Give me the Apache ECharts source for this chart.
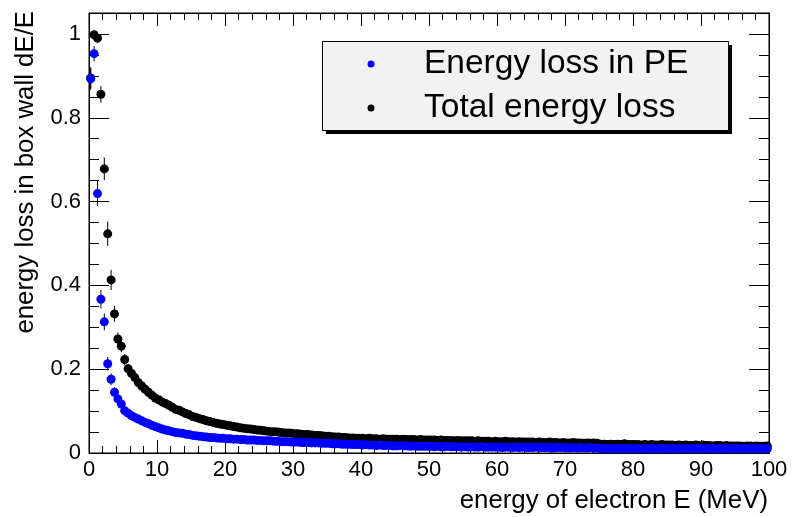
<!DOCTYPE html>
<html><head><meta charset="utf-8">
<script src="https://cdn.jsdelivr.net/npm/echarts@6/dist/echarts.min.js"></script>
<style>html,body{margin:0;padding:0;background:#fff}#c{width:794px;height:517px}</style>
</head><body><div id="c"></div>
<script>
// Histogram bin width (MeV); bins start at 0
const binWidth = 0.5;

// Total energy loss dE/E per bin (0-100 MeV, 200 bins)
const totalLoss = [
0.895,0.998,0.990,0.856,0.678,0.523,0.413,0.332,0.272,0.255,0.223,0.201,
0.190,0.180,0.168,0.160,0.152,0.145,0.138,0.131,
0.127,0.122,0.118,0.114,0.109,0.104,0.102,0.098,0.094,0.091,
0.087,0.085,0.082,0.080,0.077,0.075,0.073,0.071,0.069,0.068,
0.066,0.065,0.063,0.062,0.060,0.059,0.058,0.057,0.056,0.055,
0.054,0.053,0.052,0.051,0.051,0.050,0.049,0.048,0.048,0.047,
0.046,0.046,0.045,0.044,0.044,0.043,0.042,0.042,0.041,0.040,
0.040,0.039,0.038,0.038,0.037,0.037,0.036,0.036,0.035,0.035,
0.035,0.034,0.035,0.034,0.034,0.033,0.034,0.033,0.033,0.033,
0.033,0.032,0.033,0.032,0.032,0.032,0.031,0.032,0.031,0.031,
0.031,0.031,0.030,0.031,0.030,0.030,0.030,0.029,0.030,0.029,
0.029,0.029,0.029,0.028,0.029,0.028,0.028,0.028,0.027,0.028,
0.027,0.027,0.028,0.027,0.027,0.026,0.027,0.026,0.026,0.026,
0.026,0.025,0.026,0.025,0.025,0.026,0.025,0.025,0.024,0.025,
0.024,0.024,0.025,0.024,0.024,0.023,0.024,0.023,0.024,0.023,
0.021,0.021,0.020,0.021,0.020,0.021,0.020,0.022,0.020,0.020,
0.020,0.020,0.019,0.020,0.019,0.020,0.019,0.019,0.020,0.019,
0.019,0.019,0.018,0.019,0.018,0.019,0.018,0.018,0.019,0.018,
0.019,0.018,0.018,0.017,0.018,0.018,0.017,0.018,0.017,0.017,
0.017,0.017,0.016,0.017,0.017,0.016,0.017,0.016,0.016,0.017
];

// Energy loss in PE dE/E per bin
const peLoss = [
0.893,0.953,0.619,0.367,0.313,0.213,0.176,0.145,0.129,0.117,0.101,0.095,
0.089,0.085,0.081,0.077,0.073,0.070,0.066,0.063,
0.060,0.057,0.055,0.053,0.051,0.049,0.048,0.047,0.045,0.044,
0.042,0.041,0.040,0.039,0.038,0.037,0.037,0.036,0.035,0.035,
0.034,0.034,0.033,0.033,0.032,0.032,0.031,0.031,0.031,0.030,
0.030,0.029,0.029,0.029,0.028,0.028,0.027,0.027,0.027,0.026,
0.026,0.026,0.025,0.025,0.025,0.024,0.024,0.024,0.023,0.023,
0.023,0.022,0.022,0.022,0.021,0.021,0.021,0.020,0.020,0.020,
0.019,0.020,0.019,0.019,0.018,0.019,0.018,0.018,0.018,0.017,
0.017,0.018,0.017,0.017,0.016,0.017,0.016,0.016,0.016,0.016,
0.016,0.015,0.016,0.015,0.015,0.016,0.015,0.015,0.015,0.014,
0.015,0.014,0.015,0.014,0.014,0.015,0.014,0.014,0.014,0.014,
0.014,0.013,0.014,0.014,0.013,0.014,0.013,0.014,0.013,0.013,
0.013,0.014,0.013,0.013,0.013,0.013,0.012,0.013,0.013,0.013,
0.013,0.012,0.013,0.012,0.013,0.012,0.012,0.013,0.012,0.012,
0.010,0.011,0.010,0.010,0.011,0.010,0.010,0.011,0.010,0.010,
0.010,0.011,0.010,0.010,0.010,0.011,0.010,0.010,0.011,0.010,
0.010,0.010,0.011,0.010,0.010,0.010,0.011,0.010,0.010,0.010,
0.011,0.010,0.010,0.010,0.011,0.010,0.010,0.010,0.011,0.010,
0.010,0.010,0.011,0.010,0.010,0.010,0.010,0.011,0.010,0.010
];

// Statistical errors of the first bins (later ones are hidden by markers)
const totalErr = [0.025,0.010,0.012,0.020,0.027,0.029,0.024,0.019,0.016,0.015,0.013,0.012,0.011,0.010,0.009,0.009,0.008,0.008,0.007,0.007];
const peErr    = [0.026,0.018,0.030,0.022,0.020,0.016,0.014,0.012,0.011,0.010,0.009,0.008,0.008,0.007,0.007,0.006,0.006,0.006,0.005,0.005];

const seriesNames = ['Energy loss in PE', 'Total energy loss'];
const xTitle = 'energy of electron E (MeV)';
const yTitle = 'energy loss in box wall dE/E';

const centers = totalLoss.map((_, i) => (i + 0.5) * binWidth);
const toPts = vals => vals.map((v, i) => [centers[i], v]);
const toErr = (vals, errs) => errs.map((e, i) => [centers[i], vals[i] - e, vals[i] + e]);

const FONT = '"Liberation Sans", Arial, Helvetica, sans-serif';
const BLK = '#000';

function errRender(params, api) {
  const x = api.value(0);
  const lo = api.coord([x, api.value(1)]);
  const hi = api.coord([x, api.value(2)]);
  return { type: 'line', shape: { x1: lo[0], y1: lo[1], x2: hi[0], y2: hi[1] },
           style: { stroke: BLK, lineWidth: 1 } };
}

function xAx(pos, labels) {
  return {
    type: 'value', min: 0, max: 100, interval: 10, position: pos,
    axisLine: { show: true, onZero: false, lineStyle: { color: BLK, width: 1 } },
    axisTick: { show: true, inside: true, length: 13, lineStyle: { color: BLK } },
    minorTick: { show: true, splitNumber: 5, length: 7, lineStyle: { color: BLK } },
    axisLabel: { show: labels, color: BLK, fontSize: 22, fontFamily: FONT, margin: 6 },
    splitLine: { show: false }, minorSplitLine: { show: false }
  };
}
function yAx(pos, interval, len, labels) {
  return {
    type: 'value', min: 0, max: 1.05, interval: interval, position: pos,
    axisLine: { show: true, onZero: false, lineStyle: { color: BLK, width: 1 } },
    axisTick: { show: true, inside: true, length: len, lineStyle: { color: BLK } },
    axisLabel: { show: labels, color: BLK, fontSize: 22, fontFamily: FONT, margin: 8, showMaxLabel: false },
    splitLine: { show: false }
  };
}

const chart = echarts.init(document.getElementById('c'), null, { renderer: 'canvas' });
chart.setOption({
  animation: false,
  backgroundColor: '#fff',
  grid: { left: 89, right: 25, top: 13, bottom: 64, show: true, borderColor: BLK, borderWidth: 1, backgroundColor: 'transparent' },
  xAxis: [xAx('bottom', true), xAx('top', false)],
  yAxis: [yAx('left', 0.2, 20, true), yAx('left', 0.05, 10, false), yAx('right', 0.2, 20, false), yAx('right', 0.05, 10, false)],
  series: [
    { type: 'custom', name: seriesNames[1] + ' err', renderItem: errRender, data: toErr(totalLoss, totalErr),
      encode: { x: 0, y: [1, 2] }, z: 2, silent: true },
    { type: 'scatter', name: seriesNames[1], data: toPts(totalLoss), symbol: 'circle', symbolSize: 9,
      itemStyle: { color: BLK, opacity: 1 }, z: 3 },
    { type: 'custom', name: seriesNames[0] + ' err', renderItem: errRender, data: toErr(peLoss, peErr),
      encode: { x: 0, y: [1, 2] }, z: 4, silent: true },
    { type: 'scatter', name: seriesNames[0], data: toPts(peLoss), symbol: 'circle', symbolSize: 9,
      itemStyle: { color: '#0000ff', opacity: 1 }, z: 5 }
  ],
  graphic: [
    { type: 'rect', z: 100, shape: { x: 326, y: 45, width: 406, height: 89 }, style: { fill: BLK } },
    { type: 'rect', z: 101, shape: { x: 322.5, y: 41.5, width: 406, height: 89 }, style: { fill: '#f2f2f2', stroke: BLK, lineWidth: 1 } },
    { type: 'circle', z: 102, shape: { cx: 371, cy: 64, r: 3.5 }, style: { fill: '#0000ff' } },
    { type: 'circle', z: 102, shape: { cx: 371, cy: 108, r: 3.5 }, style: { fill: BLK } },
    { type: 'text', z: 102, x: 424, y: 64, style: { text: seriesNames[0], font: '33.5px ' + FONT, fill: BLK, textVerticalAlign: 'middle', textAlign: 'left' } },
    { type: 'text', z: 102, x: 424, y: 108, style: { text: seriesNames[1], font: '33.5px ' + FONT, fill: BLK, textVerticalAlign: 'middle', textAlign: 'left' } },
    { type: 'text', z: 102, x: 768, y: 501, style: { text: xTitle, font: '25.8px ' + FONT, fill: BLK, textVerticalAlign: 'middle', textAlign: 'right' } },
    { type: 'text', z: 102, x: 26, y: 11, rotation: Math.PI / 2, style: { text: yTitle, font: '25.8px ' + FONT, fill: BLK, textVerticalAlign: 'middle', textAlign: 'right' } }
  ]
});
</script>
</body></html>
